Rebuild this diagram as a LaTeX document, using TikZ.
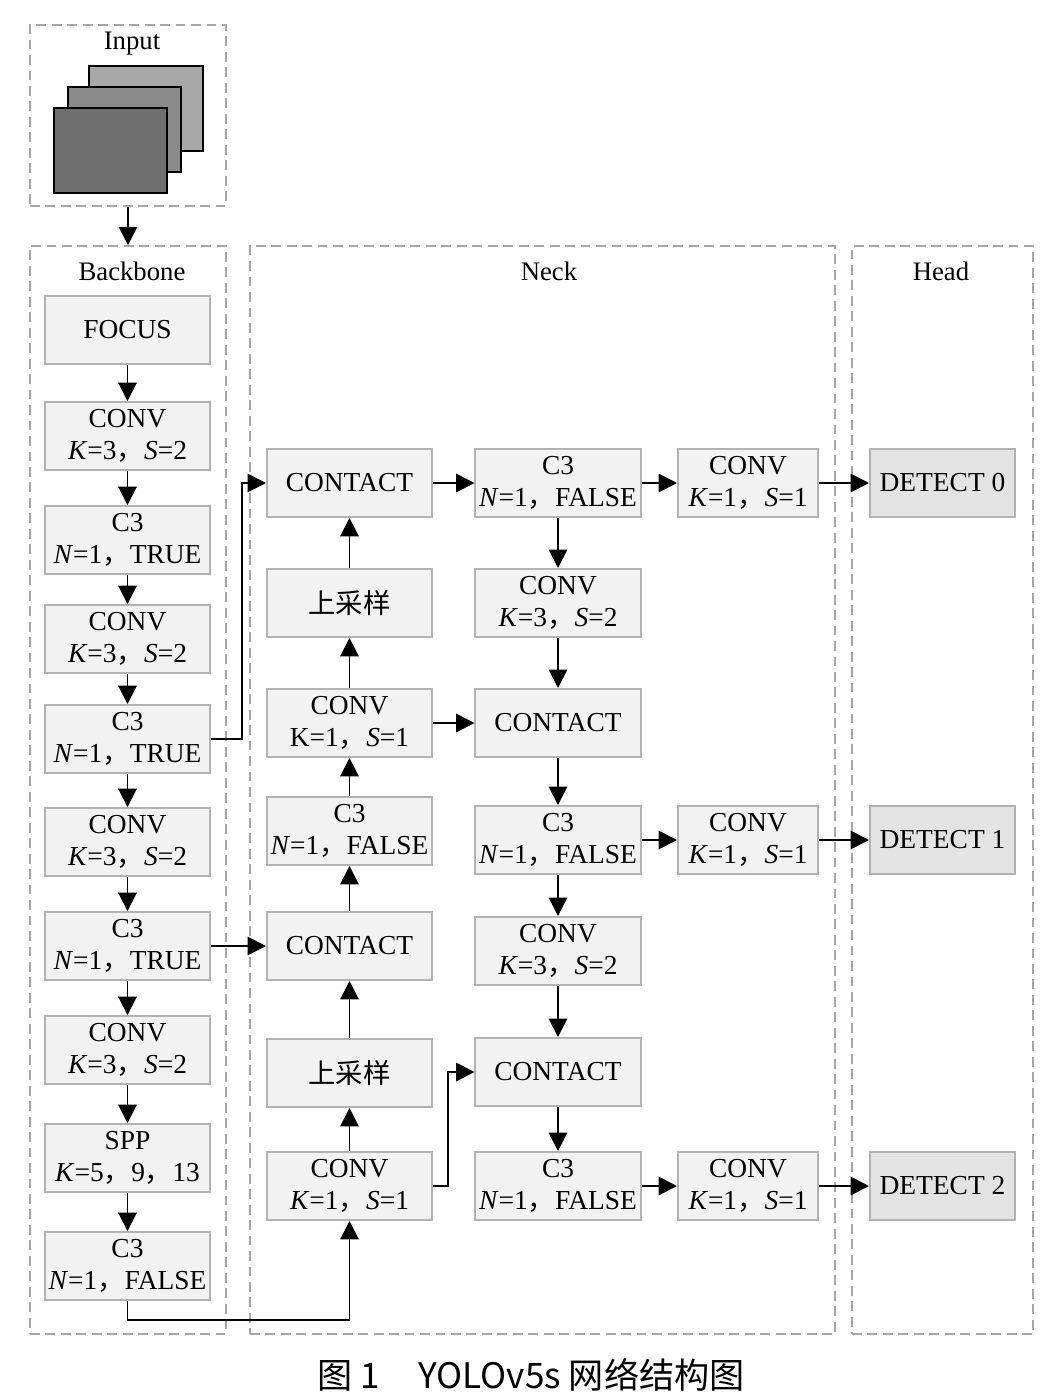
\documentclass[tikz,border=0pt]{standalone}
\usepackage{fontspec}
\setmainfont{Liberation Serif}
\newfontfamily\cjk{Noto Sans CJK SC}
\usetikzlibrary{arrows.meta}

\newcommand{\zhcomma}{{\cjk ，}}

\tikzstyle{group}=[draw=black!35, line width=1pt, dash pattern=on 7pt off 4pt]
\tikzstyle{title}=[font=\fontsize{19}{23}\selectfont]
\tikzstyle{block}=[draw=black!30, fill=black!5, line width=1.4pt, minimum width=4.125cm, minimum height=1.7cm, align=center, inner sep=1pt, font=\fontsize{19.5}{23}\selectfont]
\tikzstyle{shortblock}=[block, minimum width=3.5cm]
\tikzstyle{detect}=[block, fill=black!11, minimum width=3.625cm]
\tikzstyle{sheet}=[draw=black, line width=1.4pt]
\tikzstyle{flow}=[line width=1.4pt, -{Triangle[length=13pt,width=13pt]}]

\begin{document}
\begin{tikzpicture}[x=0.025cm, y=-0.025cm]
\useasboundingbox (0,0) rectangle (1061,1396);

% groups
\node[group, minimum width=4.9cm, minimum height=4.525cm](input) at (128,115.5) {};
\node[group, minimum width=4.9cm, minimum height=27.2cm](backbone) at (128,790) {};
\node[group, minimum width=14.625cm, minimum height=27.2cm](neck) at (542.5,790) {};
\node[group, minimum width=4.525cm, minimum height=27.2cm](head) at (942.5,790) {};
\node[title](tin) at (132,44) {Input};
\node[title](tbb) at (132,271) {Backbone};
\node[title](tnk) at (549,271) {Neck};
\node[title](thd) at (941,271) {Head};

% input image
\draw[sheet, fill=black!34] (89,66) rectangle (203,151);
\draw[sheet, fill=black!46] (68,87) rectangle (181,172);
\draw[sheet, fill=black!57] (54,108) rectangle (167,193);

% backbone
\node[block](b1) at (127.5,330) {FOCUS};
\node[block](b2) at (127.5,436) {CONV\\\textit{K}=3\zhcomma\textit{S}=2};
\node[block](b3) at (127.5,540) {C3\\\textit{N}=1\zhcomma TRUE};
\node[block](b4) at (127.5,639) {CONV\\\textit{K}=3\zhcomma\textit{S}=2};
\node[block](b5) at (127.5,739) {C3\\\textit{N}=1\zhcomma TRUE};
\node[block](b6) at (127.5,842) {CONV\\\textit{K}=3\zhcomma\textit{S}=2};
\node[block](b7) at (127.5,946) {C3\\\textit{N}=1\zhcomma TRUE};
\node[block](b8) at (127.5,1050) {CONV\\\textit{K}=3\zhcomma\textit{S}=2};
\node[block](b9) at (127.5,1158) {SPP\\\textit{K}=5\zhcomma 9\zhcomma 13};
\node[block](b10) at (127.5,1266) {C3\\\textit{N}=1\zhcomma FALSE};

% neck, first column
\node[block](n1) at (349.5,483) {CONTACT};
\node[block](n2) at (349.5,603) {{\cjk 上采样}};
\node[block](n3) at (349.5,723) {CONV\\K=1\zhcomma\textit{S}=1};
\node[block](n4) at (349.5,831) {C3\\\textit{N}=1\zhcomma FALSE};
\node[block](n5) at (349.5,946) {CONTACT};
\node[block](n6) at (349.5,1073) {{\cjk 上采样}};
\node[block](n7) at (349.5,1186) {CONV\\\textit{K}=1\zhcomma\textit{S}=1};

% neck, second column
\node[block](m1) at (558,483) {C3\\\textit{N}=1\zhcomma FALSE};
\node[block](m2) at (558,603) {CONV\\\textit{K}=3\zhcomma\textit{S}=2};
\node[block](m3) at (558,723) {CONTACT};
\node[block](m4) at (558,840) {C3\\\textit{N}=1\zhcomma FALSE};
\node[block](m5) at (558,951) {CONV\\\textit{K}=3\zhcomma\textit{S}=2};
\node[block](m6) at (558,1072) {CONTACT};
\node[block](m7) at (558,1186) {C3\\\textit{N}=1\zhcomma FALSE};

% neck, third column
\node[shortblock](c1) at (748,483) {CONV\\\textit{K}=1\zhcomma\textit{S}=1};
\node[shortblock](c2) at (748,840) {CONV\\\textit{K}=1\zhcomma\textit{S}=1};
\node[shortblock](c3) at (748,1186) {CONV\\\textit{K}=1\zhcomma\textit{S}=1};

% head
\node[detect](d1) at (942.5,483) {DETECT 0};
\node[detect](d2) at (942.5,840) {DETECT 1};
\node[detect](d3) at (942.5,1186) {DETECT 2};

% caption
\node[font=\cjk\fontsize{25}{30}\selectfont](cap) at (531,1375) {图 1\hspace{1.1em}YOLOv5s 网络结构图};

\begin{scope}[every path/.style={flow}]
\draw (input) -- (backbone);
\foreach \a/\b in {b1/b2,b2/b3,b3/b4,b4/b5,b5/b6,b6/b7,b7/b8,b8/b9,b9/b10}
  \draw (\a) -- (\b);
\foreach \a/\b in {n7/n6,n6/n5,n5/n4,n4/n3,n3/n2,n2/n1}
  \draw (\a) -- (\b);
\foreach \a/\b in {m1/m2,m2/m3,m3/m4,m4/m5,m5/m6,m6/m7}
  \draw (\a) -- (\b);
\draw (b5.east) -- ++(31,0) |- (n1.west);
\draw (b7) -- (n5);
\draw (b10.south) -- ++(0,19) -| (n7.south);
\draw (n1) -- (m1);
\draw (n3) -- (m3);
\draw (n7.east) -- ++(15,0) |- (m6.west);
\draw (m1) -- (c1);
\draw (m4) -- (c2);
\draw (m7) -- (c3);
\draw (c1) -- (d1);
\draw (c2) -- (d2);
\draw (c3) -- (d3);
\end{scope}
\end{tikzpicture}
\end{document}
